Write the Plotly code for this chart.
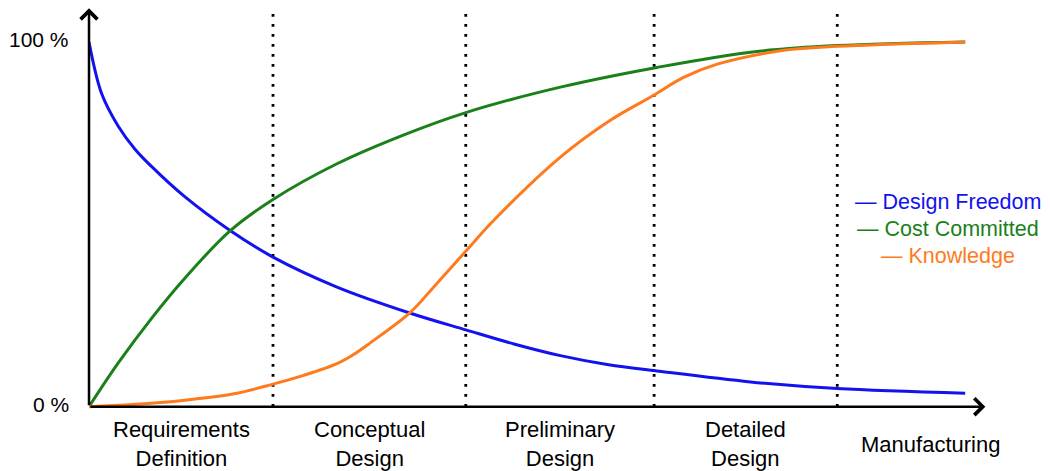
import plotly.graph_objects as go

# ---- data -------------------------------------------------------------
phases = ["Requirements<br>Definition", "Conceptual<br>Design",
          "Preliminary<br>Design", "Detailed<br>Design", "Manufacturing"]
phase_edges = [0, 21.0, 43.0, 64.5, 85.4, 106.6]   # lifecycle progress (%)

y_tick_vals = [0, 100]
y_tick_text = ["0 %", "100 %"]

freedom_x = [0, 1.45, 3.34, 5.25, 7.16, 10.96, 16.1, 21.0, 28.3, 36.6, 43.1,
             48.5, 53.8, 59.3, 64.8, 75.5, 85.4, 100]
freedom_y = [100, 85.8, 76.9, 70.6, 65.8, 57.5, 48.3, 41.0, 32.8, 25.7, 21.0,
             17.2, 14.0, 11.5, 9.8, 6.8, 5.0, 3.7]

cost_x = [0, 3.34, 7.16, 10.96, 16.1, 21.0, 28.3, 35.8, 43.1, 53.8, 64.8,
          75.5, 85.4, 100]
cost_y = [0, 12.0, 24.3, 35.3, 48.2, 56.8, 66.6, 74.4, 80.7, 87.6, 93.0,
          97.2, 99.0, 100]

know_x = [0, 5.0, 10.96, 16.7, 21.0, 24.5, 28.3, 30.2, 32.1, 36.6, 39.7,
          43.1, 46.2, 53.8, 59.5, 64.4, 67.8, 71.7, 79.3, 85.4, 100]
know_y = [0, 0.6, 1.8, 3.6, 6.2, 8.6, 11.8, 14.3, 17.5, 25.7, 33.8,
          42.9, 51.1, 68.4, 78.5, 85.3, 90.2, 93.9, 97.7, 98.8, 100]

series = [
    ("Design Freedom", freedom_x, freedom_y, "#1212EE"),
    ("Cost Committed", cost_x, cost_y, "#1A801A"),
    ("Knowledge", know_x, know_y, "#FF7A1C"),
]

# ---- figure -----------------------------------------------------------
FONT = "Liberation Sans, Arial, Helvetica, sans-serif"
fig = go.Figure()

for name, xs, ys, col in series:
    fig.add_trace(go.Scatter(x=xs, y=ys, name=name, mode="lines",
                             line=dict(color=col, width=3, shape="spline",
                                       smoothing=1.0),
                             hoverinfo="skip"))

# dotted phase separators
for e in phase_edges[1:-1]:
    fig.add_shape(type="line", x0=e, x1=e, y0=0, y1=109.2, xref="x", yref="y",
                  line=dict(color="black", width=2.8, dash="2.6px,7.4px"),
                  layer="below")

annotations = []
# axes with arrow heads
annotations.append(dict(x=0, y=109.2, ax=0, ay=0, xref="x", yref="y",
                        axref="x", ayref="y", text="", showarrow=True,
                        arrowhead=4, arrowsize=1.3, arrowwidth=2.5,
                        arrowcolor="black"))
annotations.append(dict(x=102.3, y=0, ax=0, ay=0, xref="x", yref="y",
                        axref="x", ayref="y", text="", showarrow=True,
                        arrowhead=4, arrowsize=1.3, arrowwidth=2.5,
                        arrowcolor="black"))

# y tick labels
for v, t in zip(y_tick_vals, y_tick_text):
    annotations.append(dict(x=0, y=v, xref="x", yref="y", text=t,
                            showarrow=False, xanchor="right", yanchor="middle",
                            xshift=-18, yshift=2,
                            font=dict(family=FONT, size=21, color="black")))

# phase labels
for i, p in enumerate(phases):
    mid = (phase_edges[i] + phase_edges[i + 1]) / 2
    annotations.append(dict(x=mid, y=-0.075, xref="x", yref="paper", text=p,
                            showarrow=False, xanchor="center", yanchor="middle",
                            font=dict(family=FONT, size=22, color="black")))

# custom legend
legend_y = [56.0, 48.6, 41.2]
for (name, _, _, col), ly in zip(series, legend_y):
    annotations.append(dict(x=98.0, y=ly, xref="x", yref="y",
                            text="\u2014 " + name, showarrow=False,
                            xanchor="center", yanchor="middle",
                            font=dict(family=FONT, size=21.5, color=col)))

fig.update_layout(
    width=1050, height=471,
    margin=dict(l=81, r=49.2, t=0, b=64.8),
    paper_bgcolor="white", plot_bgcolor="white",
    showlegend=False,
    xaxis=dict(range=[0, 105], visible=False, fixedrange=True),
    yaxis=dict(range=[-2, 109.3], visible=False, fixedrange=True),
    annotations=annotations,
)

fig.write_html("out.html")
